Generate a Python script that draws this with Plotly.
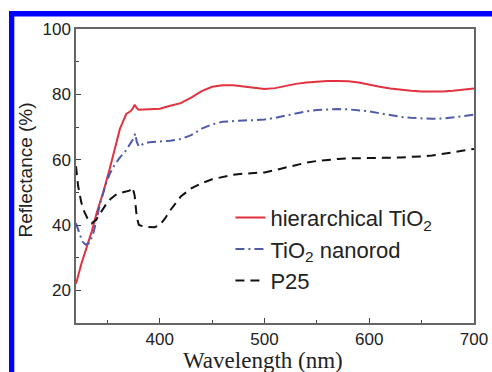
import plotly.graph_objects as go

# ---------------- data ----------------
wl_red = [320, 325, 330, 335, 340, 346, 352, 358, 362, 366, 368, 372, 374, 376, 378, 380,
          390, 400, 410, 420, 430, 440, 450, 460, 470, 480, 490, 500, 510, 520, 530, 540,
          550, 560, 570, 580, 590, 600, 610, 620, 630, 640, 650, 660, 670, 680, 690, 700]
refl_red = [22, 28, 33, 38, 44, 50, 57, 64, 69.5, 72.5, 74, 74.8, 75.5, 76.8, 75.8, 75.3,
            75.4, 75.6, 76.5, 77.3, 79, 81, 82.3, 82.8, 82.8, 82.4, 81.9, 81.6, 81.9, 82.6, 83.2, 83.6,
            83.9, 84.1, 84.1, 84, 83.6, 82.9, 82.3, 81.8, 81.4, 81.1, 80.9, 80.8, 80.9, 81.1, 81.4, 81.8]

wl_blue = [320, 323, 326, 329, 333, 337, 340, 343, 348, 352, 357, 362, 367, 372, 375, 376.5, 378, 380,
           385, 390, 400, 410, 420, 430, 440, 450, 460, 470, 480, 490, 500, 510, 520, 530, 540,
           550, 560, 570, 580, 590, 600, 610, 620, 630, 640, 650, 660, 670, 680, 690, 700]
refl_blue = [40.5, 38, 35, 34, 34.5, 38, 42, 46.5, 52, 55.5, 58.5, 60.7, 62.5, 64.8, 66.5, 68, 65.5, 64,
             65, 65.3, 65.5, 65.8, 66.3, 67.5, 69.5, 70.8, 71.6, 71.9, 72, 72.1, 72.3, 72.8, 73.5, 74.2, 74.8,
             75.2, 75.4, 75.5, 75.4, 75.1, 74.8, 74.2, 73.6, 73.1, 72.8, 72.6, 72.5, 72.6, 72.9, 73.3, 73.8]

wl_black = [320, 322, 325, 328, 331, 335, 339, 343, 348, 353, 359, 365, 371, 374, 376, 378, 380,
            385, 390, 395, 400, 405, 410, 415, 420, 430, 440, 450, 460, 470, 480, 490, 500, 510,
            520, 530, 540, 550, 560, 570, 580, 590, 600, 610, 620, 630, 640, 650, 660, 670, 680, 690, 700]
refl_black = [58, 52, 47, 44, 42, 40.5, 41.5, 43.5, 46, 48, 49.5, 50, 50.5, 51.5, 49, 42.5, 40,
              39.5, 39.3, 39.3, 40, 42, 44.5, 46.8, 48.7, 51.2, 52.8, 54, 54.8, 55.4, 55.7, 55.9, 56.1, 56.8,
              57.6, 58.4, 59.1, 59.6, 60, 60.2, 60.4, 60.4, 60.5, 60.5, 60.6, 60.7, 60.8, 61, 61.3, 61.7, 62.2, 62.8, 63.3]

names = ["hierarchical TiO<sub>2</sub>", "TiO<sub>2</sub> nanorod", "P25"]
x_ticks = [400, 500, 600, 700]
y_ticks = [20, 40, 60, 80, 100]

# ---------------- figure ----------------
fig = go.Figure()
fig.add_trace(go.Scatter(x=wl_red, y=refl_red, mode="lines", name=names[0],
                         line=dict(color="#e2313f", width=2)))
fig.add_trace(go.Scatter(x=wl_blue, y=refl_blue, mode="lines", name=names[1],
                         line=dict(color="#4f5aaa", width=2, dash="9px,4px,2px,4px")))
fig.add_trace(go.Scatter(x=wl_black, y=refl_black, mode="lines", name=names[2],
                         line=dict(color="#111111", width=2, dash="9px,6px")))

axis_common = dict(showgrid=False, zeroline=False, showline=True, linecolor="#666666",
                   linewidth=1.5, mirror=True, ticks="inside", ticklen=5, tickwidth=1.2,
                   tickcolor="#444444", automargin=False,
                   tickfont=dict(family="Liberation Sans, Arial", size=17, color="#222222"))

fig.update_xaxes(range=[320, 700], tickvals=x_ticks,
                 minor=dict(dtick=50, tick0=350, ticks="inside", ticklen=3, tickwidth=1.2, tickcolor="#444444"),
                 **axis_common)
fig.update_yaxes(range=[10, 100], tickvals=y_ticks,
                 minor=dict(dtick=10, tick0=10, ticks="inside", ticklen=3, tickwidth=1.2, tickcolor="#444444"),
                 **axis_common)

fig.add_annotation(text="Wavelength (nm)", xref="paper", yref="paper", x=0.47, y=-0.079,
                   xanchor="center", yanchor="top", showarrow=False,
                   font=dict(family="Liberation Serif, Times New Roman", size=23, color="#222222"))
fig.add_annotation(text="Reflectance (%)", xref="paper", yref="paper", x=-0.127, y=0.52,
                   xanchor="center", yanchor="middle", textangle=-90, showarrow=False,
                   font=dict(family="Liberation Sans, Arial", size=19, color="#222222"))

# blue frame around the figure
fig.add_shape(type="rect", xref="paper", yref="paper", x0=-0.1683, x1=1.08, y0=1.0425, y1=1.0612,
              fillcolor="#0000ff", line=dict(width=0), layer="above")
fig.add_shape(type="rect", xref="paper", yref="paper", x0=-0.1683, x1=-0.155, y0=-0.25, y1=1.0612,
              fillcolor="#0000ff", line=dict(width=0), layer="above")

fig.update_layout(
    width=492, height=372,
    margin=dict(l=76, r=18, t=29, b=49),
    paper_bgcolor="white", plot_bgcolor="white",
    showlegend=True,
    legend=dict(x=0.388, y=0.43, xanchor="left", yanchor="top", bgcolor="rgba(0,0,0,0)",
                font=dict(family="Liberation Sans, Arial", size=22, color="#222222"),
                tracegroupgap=0, itemwidth=30),
)

fig.write_html("out.html", config={"displayModeBar": False},
               post_script="document.body.style.margin='0';document.body.style.overflow='hidden';")
